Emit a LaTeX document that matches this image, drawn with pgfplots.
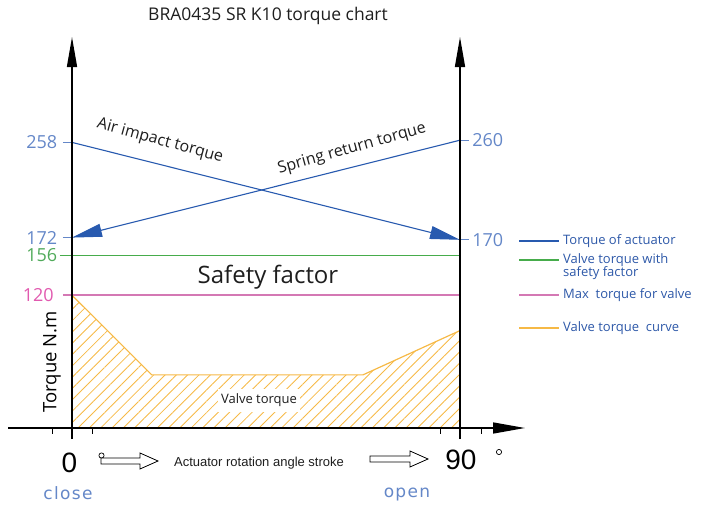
\documentclass[border=0pt]{standalone}
\usepackage{pgfplots}
\pgfplotsset{compat=1.18}
\usetikzlibrary{arrows.meta,patterns.meta}
\usepackage{fontspec}
\setmainfont{Open Sans}
\newfontfamily\arialf{Liberation Sans}
\newfontfamily\cadf[LetterSpace=8]{DejaVu Sans}
\definecolor{bluel}{RGB}{40,90,175}
\definecolor{ticblue}{RGB}{100,135,200}
\definecolor{legblue}{RGB}{45,88,168}
\definecolor{cgreen}{RGB}{70,172,75}
\definecolor{greentxt}{RGB}{80,170,90}
\definecolor{cpink}{RGB}{212,120,180}
\definecolor{pinktxt}{RGB}{225,90,175}
\definecolor{vorange}{RGB}{246,185,70}
\definecolor{txtgray}{RGB}{30,30,30}
\begin{document}
\begin{tikzpicture}
\useasboundingbox (0,0) rectangle (702pt,-506pt);
\begin{axis}[at={(0,0)},anchor=north west,scale only axis,
  width=702pt,height=506pt,
  xmin=-16.701,xmax=146.134,ymin=-70.46,ymax=386.63,
  hide axis,clip=false]
% actuator torque
\addplot[bluel,line width=1.1pt,-{Triangle[length=30pt,width=13pt]}] coordinates {(0,258) (90,170)};
\addplot[bluel,line width=1.1pt,-{Triangle[length=30pt,width=13pt]}] coordinates {(90,260) (0,172)};
% valve torque with safety factor / max torque
\addplot[draw=cgreen,no markers,line width=1.5pt] coordinates {(-2.8,156) (90,156)};
\addplot[draw=cpink,no markers,line width=1.5pt] coordinates {(-2.1,120) (90,120)};
% valve torque area (hatched)
\addplot[draw=none,pattern={Lines[angle=45,distance=8pt,line width=0.85pt]},pattern color=vorange]
  coordinates {(0,0) (0,120) (18.5,48) (67.5,48) (90,88) (90,0)} -- cycle;
\addplot[color=vorange,line width=1.2pt] coordinates {(0,120) (18.5,48) (67.5,48) (90,88)};
% tick marks and labels
\draw[ticblue,line width=0.9pt] (axis cs:-2.1,258) -- (axis cs:0,258);
\draw[ticblue,line width=0.9pt] (axis cs:-2.1,172) -- (axis cs:0,172);
\draw[ticblue,line width=0.9pt] (axis cs:90,260) -- (axis cs:92.1,260);
\draw[ticblue,line width=0.9pt] (axis cs:90,170) -- (axis cs:92.1,170);
\node[anchor=east,text=ticblue,font=\fontsize{18}{18}\selectfont,inner sep=0pt] at (axis cs:-3.4,258) {258};
\node[anchor=east,text=ticblue,font=\fontsize{18}{18}\selectfont,inner sep=0pt] at (axis cs:-3.4,172) {172};
\node[anchor=east,text=greentxt,font=\fontsize{18}{18}\selectfont,inner sep=0pt] at (axis cs:-3.4,156) {156};
\node[anchor=east,text=pinktxt,font=\fontsize{18}{18}\selectfont,inner sep=0pt] at (axis cs:-4.2,120) {120};
\node[anchor=west,text=ticblue,font=\fontsize{18}{18}\selectfont,inner sep=0pt] at (axis cs:92.8,260) {260};
\node[anchor=west,text=ticblue,font=\fontsize{18}{18}\selectfont,inner sep=0pt] at (axis cs:92.8,170) {170};
\end{axis}
\begin{scope}[x=1pt,y=-1pt]
% axes
\draw[line width=1.4pt,-{Triangle[length=32pt,width=11pt]}] (8,428) -- (525,428);
\draw[line width=1.5pt,-{Triangle[length=30pt,width=10pt]}] (72,439) -- (72,37);
\draw[line width=1.5pt,-{Triangle[length=30pt,width=10pt]}] (460,439) -- (460,37);
\foreach \xx in {52,92,440,481} \draw[line width=0.8pt] (\xx,428) -- (\xx,434);
% title
\node[text=txtgray,font=\fontsize{17.5}{17.5}\selectfont] at (268,16) {BRA0435 SR K10 torque chart};
% curve labels
\node[text=txtgray,font=\fontsize{16}{16}\selectfont,rotate=-15.6] at (160,141) {Air impact torque};
\node[text=txtgray,font=\fontsize{16}{16}\selectfont,rotate=15.6] at (352,149) {Spring return torque};
\node[text=txtgray,font=\fontsize{24}{24}\selectfont] at (268,277) {Safety factor};
\node[fill=white,text=txtgray,font=\fontsize{13}{13}\selectfont,inner xsep=3pt,inner ysep=5pt] at (259,400) {Valve torque};
\node[text=black,font=\fontsize{18.5}{18.5}\selectfont,rotate=90] at (52,362) {Torque N.m};
% x annotations
\node[font=\arialf\fontsize{28}{28}\selectfont] at (69.5,463) {0};
\node[font=\arialf\fontsize{28}{28}\selectfont] at (461,460) {90};
\draw[line width=0.7pt] (101.5,455.5) circle (2.6);
\draw[line width=0.7pt] (499,452) circle (2.6);
\draw[line width=0.8pt,fill=white] (101,458) -- (140,458) -- (140,453) -- (158,461) -- (140,469) -- (140,464) -- (101,464) -- cycle;
\draw[line width=0.8pt,fill=white] (370,456) -- (410,456) -- (410,451) -- (428,459) -- (410,467) -- (410,462) -- (370,462) -- cycle;
\node[font=\arialf\fontsize{13}{13}\selectfont,text=txtgray] at (259,463) {Actuator rotation angle stroke};
\node[text=ticblue,font=\cadf\fontsize{17}{17}\selectfont] at (68,493) {close};
\node[text=ticblue,font=\cadf\fontsize{17}{17}\selectfont] at (407,495) {open};
% legend
\draw[bluel,line width=1.2pt] (519,241) -- (559,241);
\draw[color=cgreen,line width=1.2pt] (519,260) -- (559,260);
\draw[color=cpink,line width=1.2pt] (519,295) -- (559,295);
\draw[vorange,line width=1.2pt] (519,328) -- (559,328);
\node[anchor=west,text=legblue,font=\fontsize{13}{13}\selectfont,inner sep=0pt] at (563,241) {Torque of actuator};
\node[anchor=north west,text=legblue,font=\fontsize{13}{13.5}\selectfont,inner sep=0pt,align=left] at (563,253) {Valve torque with\\safety factor};
\node[anchor=west,text=legblue,font=\fontsize{13}{13}\selectfont,inner sep=0pt] at (563,295) {Max\ \ torque for valve};
\node[anchor=west,text=legblue,font=\fontsize{13}{13}\selectfont,inner sep=0pt] at (563,328) {Valve torque\ \ curve};
\end{scope}
\end{tikzpicture}
\end{document}
